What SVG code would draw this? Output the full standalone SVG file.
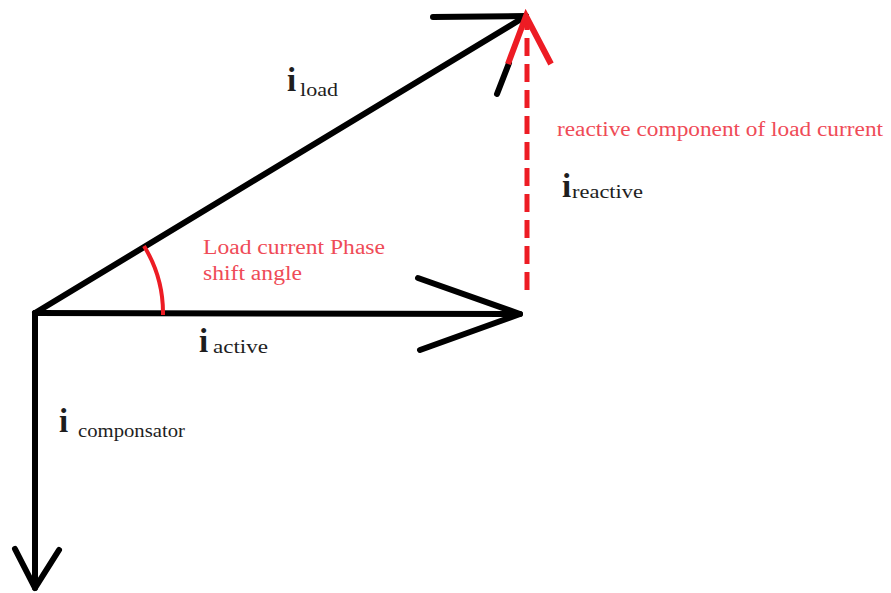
<svg xmlns="http://www.w3.org/2000/svg" width="891" height="593" viewBox="0 0 891 593">
<style>
.k{stroke:#000;stroke-width:6;fill:none;stroke-linecap:round;stroke-linejoin:round}
.r{stroke:#ed1c24;fill:none;stroke-linecap:butt}
.t{font-family:"Liberation Serif",serif;fill:#1e1e1e}
.big{font-size:33px;font-weight:bold}
.sub{font-size:19px}
.rt{font-family:"Liberation Serif",serif;fill:#ef4b57;font-size:20px}
</style>
<rect width="891" height="593" fill="#fff"/>
<g id="connectors">
<g id="load-vector">
<line class="k" x1="35" y1="313" x2="526" y2="16"/>
<line class="k" x1="433" y1="17" x2="526" y2="16"/>
<line class="k" x1="509" y1="63" x2="497" y2="94"/>
</g>
<g id="active-vector">
<line class="k" x1="35" y1="313" x2="520" y2="314"/>
<polyline class="k" points="418,278 520,314 420,350"/>
</g>
<g id="compensator-vector">
<line class="k" x1="35" y1="313" x2="35" y2="588"/>
<polyline class="k" points="15,549 35,588 59,550"/>
</g>
<g id="reactive-vector">
<line class="r" x1="527" y1="290" x2="527" y2="22" stroke-width="5" stroke-dasharray="18 8"/>
<polyline class="r" points="508,64 526,16 551,64" stroke-width="6" stroke-linejoin="miter"/>
</g>
<g id="angle-arc">
<path class="r" d="M144,246 A128,128 0 0 1 163,315" stroke-width="4"/>
</g>
</g>
<g id="label-load"><text class="t big" x="287" y="91">i</text><text class="t sub" x="300" y="96" textLength="38" lengthAdjust="spacingAndGlyphs">load</text></g>
<g id="label-active"><text class="t big" x="199" y="352">i</text><text class="t sub" x="213" y="353" textLength="55" lengthAdjust="spacingAndGlyphs">active</text></g>
<g id="label-componsator"><text class="t big" x="59" y="432">i</text><text class="t sub" x="78" y="437" textLength="107" lengthAdjust="spacingAndGlyphs">componsator</text></g>
<g id="label-reactive"><text class="t big" x="562" y="197">i</text><text class="t sub" x="572" y="198" textLength="71" lengthAdjust="spacingAndGlyphs">reactive</text></g>
<g id="note-reactive"><text class="rt" x="557" y="136" textLength="326" lengthAdjust="spacingAndGlyphs">reactive component of load current</text></g>
<g id="note-angle"><text class="rt" x="203" y="254" textLength="182" lengthAdjust="spacingAndGlyphs">Load current Phase</text><text class="rt" x="203" y="280" textLength="99" lengthAdjust="spacingAndGlyphs">shift angle</text></g>
</svg>
